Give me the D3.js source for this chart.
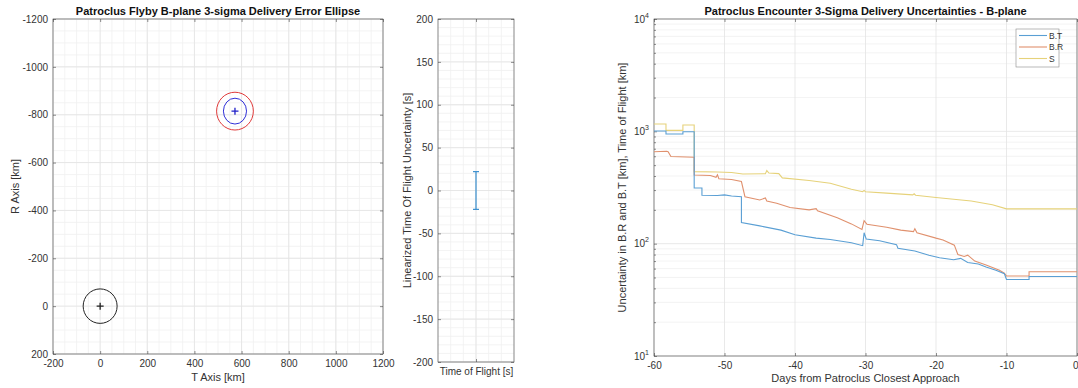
<!DOCTYPE html>
<html>
<head>
<meta charset="utf-8">
<script src="https://cdn.jsdelivr.net/npm/d3@7"></script>
<style>
  body { margin: 0; background: #fff; }
  svg { font-family: "Liberation Sans", Arial, sans-serif; }
  .tick text { fill: #333; font-size: 10px; }
</style>
</head>
<body>
<div id="chart"></div>
<script>
// ---- data ----
// B-plane ellipses (T, R in km)
var ellipseT = [0, 572, 572];
var ellipseR = [0, -815, -815];
var ellipseSemiT = [72, 49, 78];
var ellipseSemiR = [72, 54, 79];
var ellipseColors = ["#222222", "#3030d8", "#e03a3a"];
var markerT = [0, 572];
var markerR = [0, -815];
var markerColors = ["#222222", "#2020c8"];

// time of flight error bar
var tofCategory = ["Time of Flight [s]"];
var tofValue = [0];
var tofError = [22];

// delivery uncertainties vs days
var btDays = [-60, -58.3, -58.3, -55.9, -55.9, -54.3, -54.3, -53.2, -53.2, -51, -50, -49, -47.6, -47.6, -45, -42, -40, -37, -35, -32, -30.4, -30.2, -29.9, -28, -25.6, -25.4, -23, -21, -19.5, -17.5, -16.5, -15.5, -14, -12.9, -11.5, -10.3, -10, -6.8, -6.8, 0];
var btVals = [1008, 1008, 948, 948, 990, 990, 313, 313, 270, 268, 272, 266, 262, 154, 144, 132, 120, 112, 109, 102, 96, 125, 110, 106, 98, 91, 86, 79, 75, 72, 74, 68, 66, 62, 58, 54, 48, 48, 51, 51];
var brDays = [-60, -58.2, -58.0, -57.6, -54.3, -54.3, -52, -51.2, -51, -50.8, -49, -47.6, -47.1, -45, -44.2, -44, -42.6, -40.7, -38, -37, -36.8, -34, -32, -30.5, -30.2, -29.8, -27, -25, -23.2, -23, -22.7, -20, -19, -17.4, -16.9, -16, -15.5, -14.5, -12.9, -11, -10.3, -10, -6.8, -6.8, 0];
var brVals = [659, 665, 659, 596, 588, 409, 405, 390, 410, 378, 372, 357, 262, 245, 255, 240, 229, 210, 200, 205, 196, 170, 150, 134, 160, 149, 140, 132, 128, 136, 125, 112, 108, 97, 80, 77, 79, 70, 64.5, 58, 54.5, 51.5, 51.5, 56.3, 56.3];
var sDays = [-60, -58.3, -58.3, -55.9, -55.9, -54.3, -54.3, -51, -49, -47.4, -44.2, -44, -43.7, -42.3, -41.8, -38, -35, -32, -30.4, -30.2, -30, -27, -23.3, -23.1, -22.9, -20, -15, -12, -10, 0];
var sVals = [1164, 1164, 1020, 1020, 1140, 1140, 438, 435, 430, 417, 420, 447, 425, 420, 385, 365, 345, 305, 290, 298, 290, 282, 272, 278, 270, 258, 240, 222, 204, 204];
var seriesNames = ["B.T", "B.R", "S"];
var seriesColors = ["#5a9fd4", "#e0916e", "#e6d27a"];

var xTicksLeft = [-200, 0, 200, 400, 600, 800, 1000, 1200];
var yTicksLeft = [-1200, -1000, -800, -600, -400, -200, 0, 200];
var yTicksMid = [-200, -150, -100, -50, 0, 50, 100, 150, 200];
var xTicksRight = [-60, -50, -40, -30, -20, -10, 0];
var yTicksRight = [10, 100, 1000, 10000];

var W = 1078, H = 388;
var svg = d3.select("#chart").append("svg")
  .attr("width", W).attr("height", H);

var axisColor = "#333333", gridMajor = "#e3e3e3", gridMinor = "#f0f0f0";
var plain = d => String(d);

function frame(g, x0, x1, y0, y1) {
  g.append("rect").attr("x", x0).attr("y", y0)
    .attr("width", x1 - x0).attr("height", y1 - y0)
    .attr("fill", "none").attr("stroke", "#444").attr("stroke-width", 0.6);
}
function vgrid(g, xs, y0, y1, col) {
  g.selectAll(null).data(xs).enter().append("line")
    .attr("x1", d => d).attr("x2", d => d).attr("y1", y0).attr("y2", y1)
    .attr("stroke", col).attr("stroke-width", 0.8);
}
function hgrid(g, ys, x0, x1, col) {
  g.selectAll(null).data(ys).enter().append("line")
    .attr("y1", d => d).attr("y2", d => d).attr("x1", x0).attr("x2", x1)
    .attr("stroke", col).attr("stroke-width", 0.8);
}
function styleAxis(a) {
  a.select(".domain").remove();
  a.selectAll(".tick line").attr("stroke", "#444").attr("stroke-width", 0.6);
  a.selectAll(".tick text").attr("fill", axisColor);
}

// ================= left: B-plane =================
var L = {x0: 53, x1: 383, y0: 19, y1: 354};
var xL = d3.scaleLinear().domain([-200, 1200]).range([L.x0, L.x1]);
var yL = d3.scaleLinear().domain([-1200, 200]).range([L.y0, L.y1]);
var gL = svg.append("g");

vgrid(gL, d3.range(-200, 1201, 50).map(xL), L.y0, L.y1, gridMinor);
hgrid(gL, d3.range(-1200, 201, 50).map(yL), L.x0, L.x1, gridMinor);
vgrid(gL, xTicksLeft.map(xL), L.y0, L.y1, gridMajor);
hgrid(gL, yTicksLeft.map(yL), L.x0, L.x1, gridMajor);

gL.append("g").attr("transform", "translate(0," + L.y1 + ")")
  .call(d3.axisBottom(xL).tickValues(xTicksLeft).tickSize(-3).tickPadding(6).tickFormat(plain)).call(styleAxis);
gL.append("g").attr("transform", "translate(0," + L.y0 + ")")
  .call(d3.axisTop(xL).tickValues(xTicksLeft).tickSize(-3).tickFormat("")).call(styleAxis);
gL.append("g").attr("transform", "translate(" + L.x0 + ",0)")
  .call(d3.axisLeft(yL).tickValues(yTicksLeft).tickSize(-3).tickPadding(5).tickFormat(plain)).call(styleAxis);
gL.append("g").attr("transform", "translate(" + L.x1 + ",0)")
  .call(d3.axisRight(yL).tickValues(yTicksLeft).tickSize(-3).tickFormat("")).call(styleAxis);
frame(gL, L.x0, L.x1, L.y0, L.y1);

gL.selectAll(".ell").data(ellipseT).enter().append("ellipse")
  .attr("cx", d => xL(d))
  .attr("cy", (d, i) => yL(ellipseR[i]))
  .attr("rx", (d, i) => xL(d + ellipseSemiT[i]) - xL(d))
  .attr("ry", (d, i) => yL(ellipseR[i] + ellipseSemiR[i]) - yL(ellipseR[i]))
  .attr("fill", "none")
  .attr("stroke", (d, i) => ellipseColors[i])
  .attr("stroke-width", 1);

gL.selectAll(".mk").data(markerT).enter().append("path")
  .attr("d", (d, i) => {
    var cx = xL(d), cy = yL(markerR[i]);
    return "M" + (cx - 3.5) + "," + cy + "H" + (cx + 3.5) + "M" + cx + "," + (cy - 3.5) + "V" + (cy + 3.5);
  })
  .attr("stroke", (d, i) => markerColors[i]).attr("stroke-width", 1.3);

svg.append("text").attr("x", (L.x0 + L.x1) / 2).attr("y", 15)
  .attr("text-anchor", "middle").attr("font-size", 11).attr("font-weight", "bold")
  .attr("fill", "#111").text("Patroclus Flyby B-plane 3-sigma Delivery Error Ellipse");
svg.append("text").attr("x", (L.x0 + L.x1) / 2).attr("y", 381)
  .attr("text-anchor", "middle").attr("font-size", 11).attr("fill", axisColor).text("T Axis [km]");
svg.append("text").attr("transform", "translate(19," + (L.y0 + L.y1) / 2 + ") rotate(-90)")
  .attr("text-anchor", "middle").attr("font-size", 11).attr("fill", axisColor).text("R Axis [km]");

// ================= middle: time of flight =================
var M = {x0: 438, x1: 514, y0: 19, y1: 362};
var xM = d3.scaleLinear().domain([0.4, 1.6]).range([M.x0, M.x1]);
var yM = d3.scaleLinear().domain([-200, 200]).range([M.y1, M.y0]);
var gM = svg.append("g");

vgrid(gM, d3.range(0.4, 1.61, 0.2).map(xM), M.y0, M.y1, gridMinor);
hgrid(gM, d3.range(-200, 201, 10).map(yM), M.x0, M.x1, gridMinor);
vgrid(gM, [xM(1)], M.y0, M.y1, gridMajor);
hgrid(gM, yTicksMid.map(yM), M.x0, M.x1, gridMajor);

gM.append("g").attr("transform", "translate(0," + M.y1 + ")")
  .call(d3.axisBottom(xM).tickValues([1]).tickSize(-3).tickPadding(6)
    .tickFormat(() => tofCategory[0])).call(styleAxis);
gM.append("g").attr("transform", "translate(0," + M.y0 + ")")
  .call(d3.axisTop(xM).tickValues([1]).tickSize(-3).tickFormat("")).call(styleAxis);
gM.append("g").attr("transform", "translate(" + M.x0 + ",0)")
  .call(d3.axisLeft(yM).tickValues(yTicksMid).tickSize(-3).tickPadding(5).tickFormat(plain)).call(styleAxis);
gM.append("g").attr("transform", "translate(" + M.x1 + ",0)")
  .call(d3.axisRight(yM).tickValues(yTicksMid).tickSize(-3).tickFormat("")).call(styleAxis);
frame(gM, M.x0, M.x1, M.y0, M.y1);

var eb = gM.selectAll(".eb").data(tofValue).enter().append("g").attr("stroke", "#3a8fcf").attr("stroke-width", 1.2);
eb.append("line").attr("x1", xM(1)).attr("x2", xM(1))
  .attr("y1", (d, i) => yM(d - tofError[i])).attr("y2", (d, i) => yM(d + tofError[i]));
eb.append("line").attr("x1", xM(1) - 3).attr("x2", xM(1) + 3)
  .attr("y1", (d, i) => yM(d - tofError[i])).attr("y2", (d, i) => yM(d - tofError[i]));
eb.append("line").attr("x1", xM(1) - 3).attr("x2", xM(1) + 3)
  .attr("y1", (d, i) => yM(d + tofError[i])).attr("y2", (d, i) => yM(d + tofError[i]));

svg.append("text").attr("transform", "translate(411," + (M.y0 + M.y1) / 2 + ") rotate(-90)")
  .attr("text-anchor", "middle").attr("font-size", 11).attr("fill", axisColor)
  .text("Linearized Time Of Flight Uncertainty [s]");

// ================= right: uncertainties =================
var R = {x0: 654, x1: 1077, y0: 19, y1: 356};
var xR = d3.scaleLinear().domain([-60, 0]).range([R.x0, R.x1]);
var yR = d3.scaleLog().domain([10, 10000]).range([R.y1, R.y0]);
var gR = svg.append("g");

var minorLog = [];
[10, 100, 1000].forEach(function(b) { for (var k = 2; k <= 9; k++) minorLog.push(b * k); });
hgrid(gR, minorLog.map(yR), R.x0, R.x1, gridMinor);
vgrid(gR, xTicksRight.map(xR), R.y0, R.y1, gridMajor);
hgrid(gR, yTicksRight.map(yR), R.x0, R.x1, gridMajor);

var xAxR = gR.append("g").attr("transform", "translate(0," + R.y1 + ")")
  .call(d3.axisBottom(xR).tickValues(xTicksRight).tickSize(-3).tickPadding(6).tickFormat(plain)).call(styleAxis);
// the last label sits on the window edge; keep it inside
xAxR.selectAll(".tick text").filter(d => d === 0).attr("text-anchor", "end").attr("dx", 1);
gR.append("g").attr("transform", "translate(0," + R.y0 + ")")
  .call(d3.axisTop(xR).tickValues(xTicksRight).tickSize(-3).tickFormat("")).call(styleAxis);
var yAxR = gR.append("g").attr("transform", "translate(" + R.x0 + ",0)")
  .call(d3.axisLeft(yR).tickValues(yTicksRight).tickSize(-3).tickPadding(5).tickFormat(""))
  .call(styleAxis);
yAxR.selectAll(".tick text").each(function(d) {
  var t = d3.select(this);
  t.append("tspan").text("10");
  t.append("tspan").attr("dy", -5).attr("font-size", 7).text(Math.round(Math.log10(d)));
});
gR.append("g").attr("transform", "translate(" + R.x0 + ",0)")
  .call(d3.axisLeft(yR).tickValues(minorLog).tickSize(-2).tickFormat("")).call(styleAxis);
frame(gR, R.x0, R.x1, R.y0, R.y1);

var series = [
  {days: btDays, vals: btVals},
  {days: brDays, vals: brVals},
  {days: sDays, vals: sVals}
];
var line = d3.line().x(d => xR(d[0])).y(d => yR(d[1]));
// draw S first, then B.R, then B.T on top
[2, 1, 0].forEach(function(i) {
  var pts = series[i].days.map((d, j) => [d, series[i].vals[j]]);
  gR.append("path").datum(pts)
    .attr("fill", "none").attr("stroke", seriesColors[i]).attr("stroke-width", 1.1)
    .attr("d", line);
});

// legend
var lg = gR.append("g").attr("transform", "translate(1016,29)");
lg.append("rect").attr("width", 43).attr("height", 38)
  .attr("fill", "#fff").attr("stroke", "#8a8a8a").attr("stroke-width", 0.6);
seriesNames.forEach(function(n, i) {
  var yy = 6.5 + i * 11.5;
  lg.append("line").attr("x1", 3).attr("x2", 31).attr("y1", yy).attr("y2", yy)
    .attr("stroke", seriesColors[i]).attr("stroke-width", 1.1);
  lg.append("text").attr("x", 33).attr("y", yy + 3).attr("font-size", 8.5)
    .attr("fill", axisColor).text(n);
});

svg.append("text").attr("x", (R.x0 + R.x1) / 2).attr("y", 15)
  .attr("text-anchor", "middle").attr("font-size", 11).attr("font-weight", "bold")
  .attr("fill", "#111").text("Patroclus Encounter 3-Sigma Delivery Uncertainties - B-plane");
svg.append("text").attr("x", (R.x0 + R.x1) / 2).attr("y", 382)
  .attr("text-anchor", "middle").attr("font-size", 11).attr("fill", axisColor)
  .text("Days from Patroclus Closest Approach");
svg.append("text").attr("transform", "translate(626," + (R.y0 + R.y1) / 2 + ") rotate(-90)")
  .attr("text-anchor", "middle").attr("font-size", 11).attr("fill", axisColor)
  .text("Uncertainty in B.R and B.T [km], Time of Flight [km]");
</script>
</body>
</html>
